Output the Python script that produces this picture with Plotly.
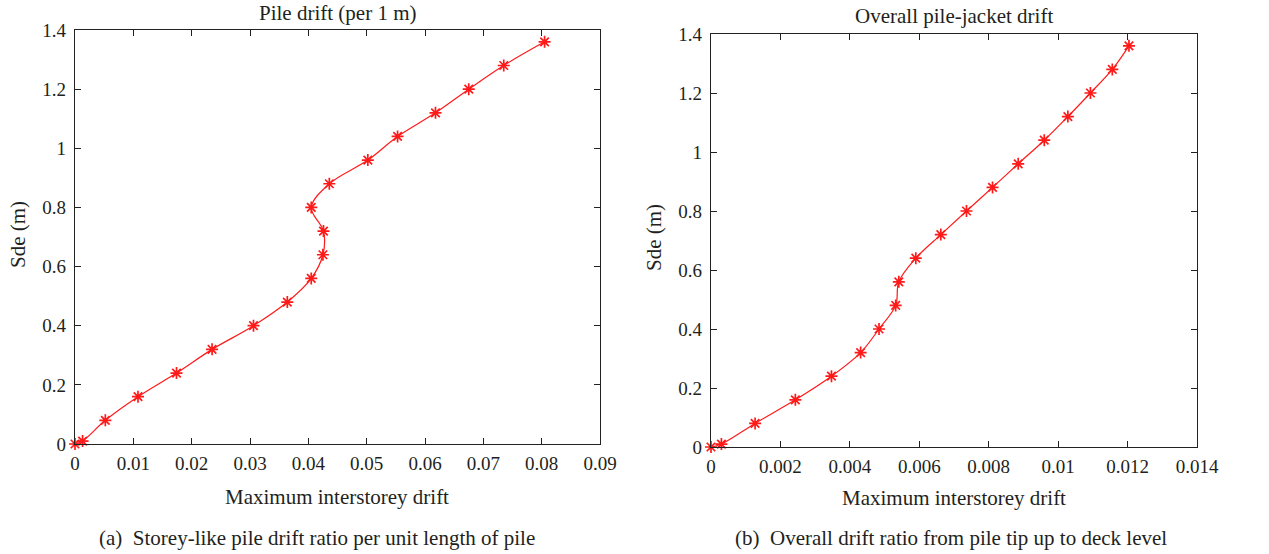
import plotly.graph_objects as go

# Data
sde = [0, 0.01, 0.08, 0.16, 0.24, 0.32, 0.40, 0.48, 0.56, 0.64, 0.72, 0.80, 0.88, 0.96, 1.04, 1.12, 1.20, 1.28, 1.36]
pile_drift = [0, 0.0013, 0.0052, 0.0108, 0.0174, 0.0235, 0.0306, 0.0364, 0.0405, 0.0425, 0.0426, 0.0405,
              0.0436, 0.0502, 0.0553, 0.0618, 0.0675, 0.0735, 0.0805]
overall_drift = [0, 0.0003, 0.00127, 0.00243, 0.00347, 0.00431, 0.00484, 0.00532, 0.00541, 0.0059, 0.00662,
                 0.00736, 0.00811, 0.00885, 0.0096, 0.01028, 0.01093, 0.01156, 0.01204]

x1_ticks = [0, 0.01, 0.02, 0.03, 0.04, 0.05, 0.06, 0.07, 0.08, 0.09]
x1_labels = ["0", "0.01", "0.02", "0.03", "0.04", "0.05", "0.06", "0.07", "0.08", "0.09"]
x2_ticks = [0, 0.002, 0.004, 0.006, 0.008, 0.01, 0.012, 0.014]
x2_labels = ["0", "0.002", "0.004", "0.006", "0.008", "0.01", "0.012", "0.014"]
y_ticks = [0, 0.2, 0.4, 0.6, 0.8, 1.0, 1.2, 1.4]
y_labels = ["0", "0.2", "0.4", "0.6", "0.8", "1", "1.2", "1.4"]

W, H = 1269, 554
FONT = "Liberation Serif"
TXT = "#231f20"
RED = "#ff1a1a"

def px(x):
    return x / W

def py(y):
    return 1 - y / H

fig = go.Figure()

trace_style = dict(mode="lines+markers",
                   line=dict(color=RED, width=1.2, shape="spline", smoothing=1),
                   marker=dict(symbol="asterisk-open", size=10, color=RED, line=dict(color=RED, width=1.7)),
                   cliponaxis=False, showlegend=False)

fig.add_trace(go.Scatter(x=pile_drift, y=sde, xaxis="x", yaxis="y", **trace_style))
fig.add_trace(go.Scatter(x=overall_drift, y=sde, xaxis="x2", yaxis="y2", **trace_style))

axis_common = dict(showline=True, linecolor="#222", linewidth=1.2, mirror="ticks", ticks="inside",
                   ticklen=6, tickcolor="#222", showgrid=False, zeroline=False, automargin=False,
                   tickfont=dict(family=FONT, size=19, color=TXT))

fig.update_layout(
    width=W, height=H, margin=dict(l=0, r=0, t=0, b=0, pad=0), autosize=False,
    paper_bgcolor="white", plot_bgcolor="white",
    xaxis=dict(domain=[px(75), px(600)], range=[0, 0.09], tickvals=x1_ticks, ticktext=x1_labels,
               anchor="y", ticklabelstandoff=2, **axis_common),
    yaxis=dict(domain=[py(444), py(30)], range=[0, 1.4], tickvals=y_ticks, ticktext=y_labels,
               anchor="x", ticklabelstandoff=4, **axis_common),
    xaxis2=dict(domain=[px(711), px(1197)], range=[0, 0.014], tickvals=x2_ticks, ticktext=x2_labels,
                anchor="y2", ticklabelstandoff=2, **axis_common),
    yaxis2=dict(domain=[py(447), py(34)], range=[0, 1.4], tickvals=y_ticks, ticktext=y_labels,
                anchor="x2", ticklabelstandoff=4, **axis_common),
)

def ann(text, x, y, size=21, angle=0):
    fig.add_annotation(text=text, x=px(x), y=py(y), xref="paper", yref="paper", showarrow=False,
                       xanchor="center", yanchor="middle", textangle=angle,
                       font=dict(family=FONT, size=size, color=TXT))

ann("Pile drift (per 1 m)", 337, 13)
ann("Overall pile-jacket drift", 954, 16)
ann("Maximum interstorey drift", 337, 497)
ann("Maximum interstorey drift", 954, 498)
ann("Sde (m)", 18, 235, angle=-90)
ann("Sde (m)", 654, 238, angle=-90)
ann("(a)  Storey-like pile drift ratio per unit length of pile", 317, 538)
ann("(b)  Overall drift ratio from pile tip up to deck level", 951, 538)

fig.write_html("out.html")
